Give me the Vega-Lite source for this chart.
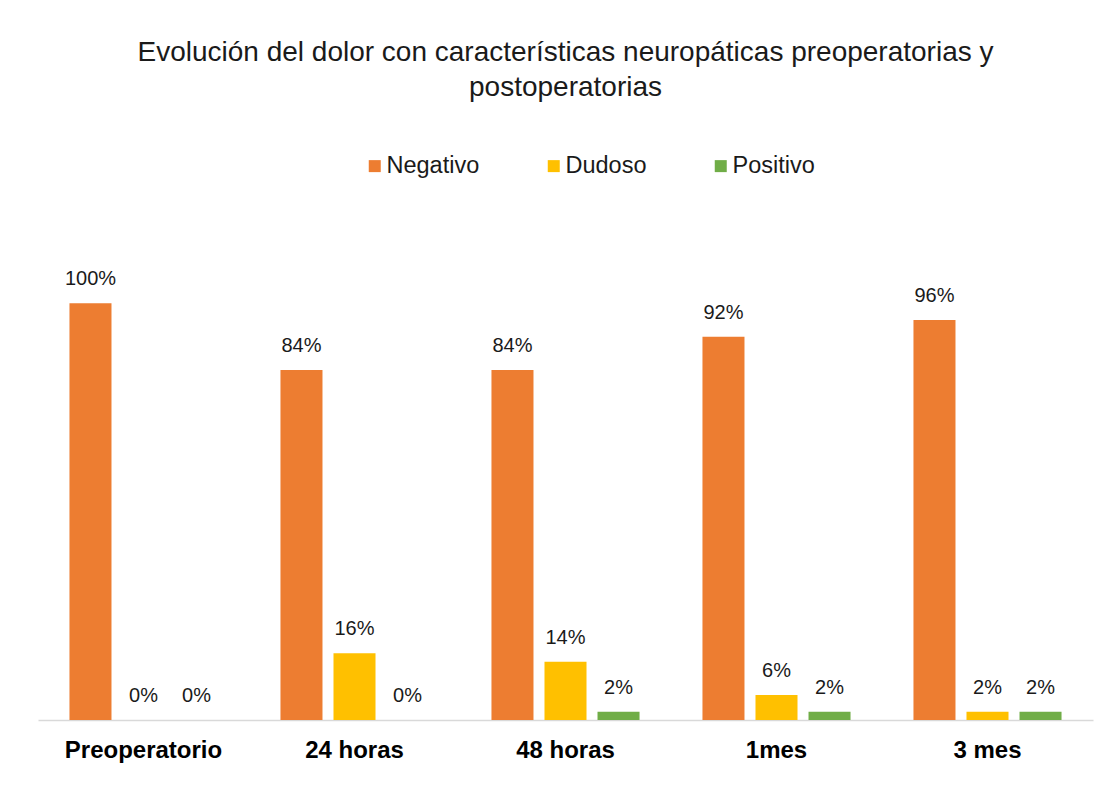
{
  "$schema": "https://vega.github.io/schema/vega-lite/v6.json",
  "autosize": {"type": "none"},
  "width": 1055,
  "height": 500,
  "padding": {"left": 38, "top": 220, "right": 18, "bottom": 67},
  "background": "white",
  "title": {
    "text": ["Evolución del dolor con características neuropáticas preoperatorias y", "postoperatorias"],
    "font": "Liberation Sans",
    "fontSize": 28,
    "fontWeight": "normal",
    "color": "#1a1a1a",
    "lineHeight": 35,
    "anchor": "middle",
    "offset": 52
  },
  "data": {
    "values": [
      {"momento": "Preoperatorio", "resultado": "Negativo", "valor": 1.00},
      {"momento": "Preoperatorio", "resultado": "Dudoso", "valor": 0.00},
      {"momento": "Preoperatorio", "resultado": "Positivo", "valor": 0.00},
      {"momento": "24 horas", "resultado": "Negativo", "valor": 0.84},
      {"momento": "24 horas", "resultado": "Dudoso", "valor": 0.16},
      {"momento": "24 horas", "resultado": "Positivo", "valor": 0.00},
      {"momento": "48 horas", "resultado": "Negativo", "valor": 0.84},
      {"momento": "48 horas", "resultado": "Dudoso", "valor": 0.14},
      {"momento": "48 horas", "resultado": "Positivo", "valor": 0.02},
      {"momento": "1mes", "resultado": "Negativo", "valor": 0.92},
      {"momento": "1mes", "resultado": "Dudoso", "valor": 0.06},
      {"momento": "1mes", "resultado": "Positivo", "valor": 0.02},
      {"momento": "3 mes", "resultado": "Negativo", "valor": 0.96},
      {"momento": "3 mes", "resultado": "Dudoso", "valor": 0.02},
      {"momento": "3 mes", "resultado": "Positivo", "valor": 0.02}
    ]
  },
  "encoding": {
    "x": {
      "field": "momento",
      "type": "nominal",
      "sort": ["Preoperatorio", "24 horas", "48 horas", "1mes", "3 mes"],
      "scale": {"paddingInner": 0.246, "paddingOuter": 0.123},
      "axis": {
        "title": null,
        "labelAngle": 0,
        "ticks": false,
        "domainColor": "#d9d9d9",
        "domainWidth": 1.5,
        "labelFont": "Liberation Sans",
        "labelFontSize": 24,
        "labelFontWeight": "bold",
        "labelColor": "#000000",
        "labelPadding": 18
      }
    },
    "xOffset": {
      "field": "resultado",
      "type": "nominal",
      "sort": ["Negativo", "Dudoso", "Positivo"],
      "scale": {"paddingInner": 0.2075, "paddingOuter": 0.104}
    },
    "y": {
      "field": "valor",
      "type": "quantitative",
      "scale": {"domain": [0, 1.2]},
      "axis": null
    }
  },
  "layer": [
    {
      "mark": {"type": "bar"},
      "encoding": {
        "color": {
          "field": "resultado",
          "type": "nominal",
          "sort": ["Negativo", "Dudoso", "Positivo"],
          "scale": {"domain": ["Negativo", "Dudoso", "Positivo"], "range": ["#ED7D31", "#FFC000", "#70AD47"]},
          "legend": {
            "title": null,
            "orient": "none",
            "legendX": 325,
            "legendY": -66,
            "direction": "horizontal",
            "symbolType": "square",
            "symbolSize": 144,
            "symbolStrokeWidth": 0,
            "labelFont": "Liberation Sans",
            "labelFontSize": 23.5,
            "labelColor": "#1a1a1a",
            "labelOffset": 0,
            "columnPadding": 62
          }
        }
      }
    },
    {
      "mark": {"type": "text", "baseline": "alphabetic", "dy": -18, "font": "Liberation Sans", "fontSize": 20, "color": "#1a1a1a"},
      "encoding": {
        "text": {"field": "valor", "type": "quantitative", "format": ".0%"}
      }
    }
  ],
  "config": {"view": {"stroke": null}}
}
